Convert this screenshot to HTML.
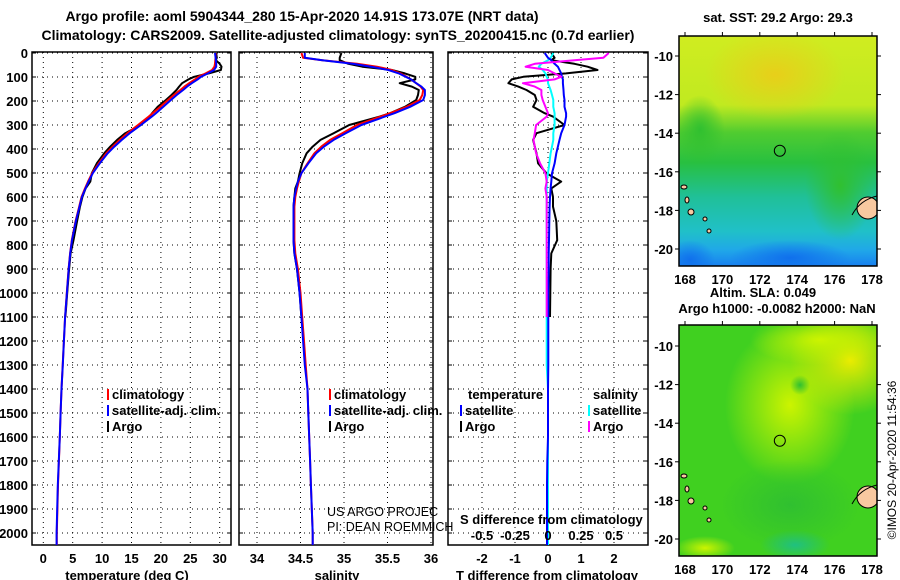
<!DOCTYPE html>
<html><head><meta charset="utf-8">
<style>
html,body{margin:0;padding:0;background:#fff;}
svg{display:block;font-family:"Liberation Sans",Arial,sans-serif;}
</style></head>
<body>
<svg id="chart" width="900" height="580" viewBox="0 0 900 580" xmlns="http://www.w3.org/2000/svg">
<defs>
<clipPath id="c1"><rect x="32" y="52" width="199" height="493"/></clipPath>
<clipPath id="c2"><rect x="239" y="52" width="194" height="493"/></clipPath>
<clipPath id="c3"><rect x="448" y="52" width="200" height="493"/></clipPath>
<linearGradient id="sstV" x1="0" y1="0" x2="0" y2="1">
<stop offset="0" stop-color="#d0ec20"/><stop offset="0.3" stop-color="#c0ea20"/>
<stop offset="0.42" stop-color="#50cc30"/><stop offset="0.55" stop-color="#28c040"/>
<stop offset="0.7" stop-color="#20c098"/><stop offset="0.85" stop-color="#20c0c8"/>
<stop offset="0.93" stop-color="#20a8e8"/><stop offset="1" stop-color="#1880f0"/></linearGradient>
<radialGradient id="orange" cx="0.5" cy="0.5" r="0.5"><stop offset="0" stop-color="#f0c818"/><stop offset="1" stop-color="#f0c818" stop-opacity="0"/></radialGradient>
<radialGradient id="blueBlob" cx="0.5" cy="0.5" r="0.5"><stop offset="0" stop-color="#1070ec"/><stop offset="1" stop-color="#1070ec" stop-opacity="0"/></radialGradient>
<radialGradient id="greenBlob" cx="0.5" cy="0.5" r="0.5"><stop offset="0" stop-color="#30c030"/><stop offset="1" stop-color="#30c030" stop-opacity="0"/></radialGradient>
<radialGradient id="yelBlob" cx="0.5" cy="0.5" r="0.5"><stop offset="0" stop-color="#ccf400"/><stop offset="1" stop-color="#ccf400" stop-opacity="0"/></radialGradient>
<radialGradient id="yel2" cx="0.5" cy="0.5" r="0.5"><stop offset="0" stop-color="#ecec00"/><stop offset="1" stop-color="#ecec00" stop-opacity="0"/></radialGradient>
<radialGradient id="tealBlob" cx="0.5" cy="0.5" r="0.5"><stop offset="0" stop-color="#20c080"/><stop offset="1" stop-color="#20c080" stop-opacity="0"/></radialGradient>
<clipPath id="m1"><rect x="679" y="36" width="198" height="230"/></clipPath>
<clipPath id="m2"><rect x="679" y="325" width="198" height="231"/></clipPath>
</defs>
<g id="root"></g>
</svg>
<script>
// ---- data ----
const depths = [0,20,30,45,57,71,85,99,110,126,140,154,175,196,224,251,265,300,334,362,390,418,460,501,536,564,600,640,700,780,835,900,1000,1100,1200,1300,1400,1500,1600,1700,1800,1900,2000,2050];
const tempClim = [29.3,29.3,29.25,29.2,29.1,28.7,27.6,26.4,25.8,24.8,24.0,23.3,22.2,21.2,19.9,18.6,17.9,16.1,14.3,13.0,11.8,10.7,9.4,8.3,7.6,7.1,6.5,6.1,5.5,4.85,4.55,4.3,4.0,3.7,3.5,3.3,3.1,2.95,2.8,2.65,2.5,2.4,2.3,2.3];
const tempSatDiff = [-0.1,0,0.1,0.2,0.3,0.35,0.4,0.42,0.45,0.45,0.46,0.47,0.48,0.5,0.5,0.55,0.55,0.5,0.4,0.35,0.3,0.25,0.2,0.12,0.1,0.08,0.06,0.05,0.04,0.03,0.02,0.02,0.01,0.01,0.01,0.01,0,0,0,-0.02,-0.03,-0.03,-0.03,-0.03];
const tempArgoDiff = [0.1,0.2,0.1,0.8,1.2,1.5,0.55,-0.75,-1.1,-1.2,-0.9,-0.65,-0.4,-0.35,-0.45,-0.1,0.15,0.5,-0.35,-0.45,-0.4,-0.35,-0.3,-0.05,0.4,0.1,0.15,0.15,0.25,0.28,0.1,0.08,0.07,0.06,null,null,null,null,null,null,null,null,null,null];
const salClim = [34.51,34.53,34.75,35.15,35.38,35.55,35.65,35.72,35.77,35.83,35.88,35.91,35.9,35.87,35.72,35.53,35.42,35.15,34.98,34.84,34.74,34.66,34.58,34.51,34.48,34.46,34.44,34.43,34.43,34.43,34.44,34.47,34.5,34.52,34.54,34.56,34.58,34.59,34.6,34.61,34.62,34.63,34.64,34.64];
const salSatDiff = [0.04,0.02,0,-0.05,-0.07,-0.04,-0.02,-0.01,0,0,0.01,0.02,0.03,0.04,0.04,0.05,0.05,0.05,0.04,0.04,0.03,0.02,0.01,0,-0.01,-0.01,-0.01,-0.01,-0.01,-0.01,-0.01,-0.01,-0.01,-0.01,-0.01,-0.01,0,0,0,0,0,0,0,0];
const salArgoDiff = [0.46,0.42,0.2,-0.1,-0.17,0.0,0.05,0.1,0.05,-0.19,-0.1,-0.05,-0.05,-0.04,-0.02,0.0,-0.01,-0.09,-0.1,-0.11,-0.1,-0.09,-0.06,-0.02,-0.01,-0.02,-0.01,-0.01,-0.01,-0.01,-0.01,-0.01,-0.01,-0.01,null,null,null,null,null,null,null,null,null,null];
const depthTicks = [0,100,200,300,400,500,600,700,800,900,1000,1100,1200,1300,1400,1500,1600,1700,1800,1900,2000];
const tempTicks = [0,5,10,15,20,25,30];
const salTicks = [34,34.5,35,35.5,36];
const tdTicks = [-2,-1,0,1,2];
const sdTicks = [-0.5,-0.25,0,0.25,0.5];
const latTicks = [-10,-12,-14,-16,-18,-20];
const lonTicks = [168,170,172,174,176,178];
const argoLon = 173.07, argoLat = -14.91;

// ---- scales ----
const yD = d => 53 + d * 0.24;
const xT = t => 43.3 + t * 5.88;
const xS = s => 257 + (s - 34) * 87;
const xTD = v => 548 + v * 33;
const xSD = v => 548 + v * 132;
const mx = lon => 685 + (lon - 168) * 18.7;
const my1 = lat => 56 + (-10 - lat) * 19.3;
const my2 = lat => 346 + (-10 - lat) * 19.3;

const NS = 'http://www.w3.org/2000/svg';
const root = document.getElementById('root');
function mk(tag, attrs, parent) {
  const e = document.createElementNS(NS, tag);
  for (const k in attrs) e.setAttribute(k, attrs[k]);
  (parent || root).appendChild(e);
  return e;
}
function txt(s, x, y, size, anchor, bold, parent) {
  const t = mk('text', {x: x, y: y, 'font-size': size, 'text-anchor': anchor || 'start', 'font-weight': bold ? 'bold' : 'normal', fill: '#000'}, parent);
  t.textContent = s;
  return t;
}
function pathFrom(vals, xf) {
  let d = '', pen = false;
  for (let i = 0; i < depths.length; i++) {
    const v = vals[i];
    if (v === null || v === undefined) { pen = false; continue; }
    d += (pen ? 'L' : 'M') + xf(v).toFixed(1) + ',' + yD(depths[i]).toFixed(1);
    pen = true;
  }
  return d;
}
const sum = (a, b) => a.map((v, i) => (v === null || b[i] === null) ? null : +(v + b[i]).toFixed(3));
const tempSat = sum(tempClim, tempSatDiff), tempArgo = sum(tempClim, tempArgoDiff);
const salSat = sum(salClim, salSatDiff), salArgo = sum(salClim, salArgoDiff);

// ---- titles ----
let el;
el = txt('Argo profile: aoml 5904344_280 15-Apr-2020 14.91S 173.07E (NRT data)', 302, 21, 14, 'middle', true);


el = txt('Climatology: CARS2009. Satellite-adjusted climatology: synTS_20200415.nc (0.7d earlier)', 338, 40, 14, 'middle', true);



// ---- panels ----
const panels = [
  {name: 'temperature', x0: 32, x1: 231, clip: 'c1', xticks: tempTicks, xf: xT, title: 'temperature (deg C)', tx: 127},
  {name: 'salinity', x0: 239, x1: 433, clip: 'c2', xticks: salTicks, xf: xS, title: 'salinity', tx: 337},
  {name: 'difference', x0: 448, x1: 648, clip: 'c3', xticks: tdTicks, xf: xTD, title: 'T difference from climatology', tx: 547}
];
panels.forEach(p => {
  const g = mk('g', {});
  
  
  depthTicks.forEach(d => {
    const l = mk('line', {x1: p.x0, x2: p.x1, y1: yD(d), y2: yD(d), stroke: '#000', 'stroke-width': 1, 'stroke-dasharray': '1,4'}, g);
    
    
    const t1 = mk('line', {x1: p.x0, x2: p.x0 + 4, y1: yD(d), y2: yD(d), stroke: '#000'}, g);
    
    
    const t2 = mk('line', {x1: p.x1 - 4, x2: p.x1, y1: yD(d), y2: yD(d), stroke: '#000'}, g);
    
    
  });
  p.xticks.forEach(v => {
    const l = mk('line', {x1: p.xf(v), x2: p.xf(v), y1: 52, y2: 545, stroke: '#000', 'stroke-width': 1, 'stroke-dasharray': '1,4'}, g);
    
    
    const lab = txt(String(v), p.xf(v), 563, 13, 'middle', true, g);
    
    
  });
  const fr = mk('rect', {x: p.x0, y: 52, width: p.x1 - p.x0, height: 493, fill: 'none', stroke: '#000', 'stroke-width': 1.5}, g);
  
  
  const at = txt(p.title, p.tx, 580, 13, 'middle', true, g);
  
  
});
depthTicks.forEach(d => {
  const t = txt(String(d), 28, yD(d) + 5, 13, 'end', true);
  
  
});

// ---- series ----
function series(vals, xf, color, clip, name, w) {
  const p = mk('path', {d: pathFrom(vals, xf), fill: 'none', stroke: color, 'stroke-width': w || 2, 'clip-path': 'url(#' + clip + ')', 'stroke-linejoin': 'round'});
  
  
}
series(tempArgo, xT, '#000', 'c1', 'temperature-argo-line');
series(tempClim, xT, '#ff0000', 'c1', 'temperature-climatology-line');
series(tempSat, xT, '#0000ff', 'c1', 'temperature-satellite-line');
series(salArgo, xS, '#000', 'c2', 'salinity-argo-line');
series(salClim, xS, '#ff0000', 'c2', 'salinity-climatology-line');
series(salSat, xS, '#0000ff', 'c2', 'salinity-satellite-line');
series(tempArgoDiff, xTD, '#000', 'c3', 'temp-diff-argo-line');
series(salSatDiff, xSD, '#00ffff', 'c3', 'sal-diff-satellite-line');
series(tempSatDiff, xTD, '#0000ff', 'c3', 'temp-diff-satellite-line');
series(salArgoDiff, xSD, '#ff00ff', 'c3', 'sal-diff-argo-line');

el = txt('S difference from climatology', 460, 524, 13, 'start', true);


sdTicks.forEach(v => {
  const t = txt(String(v), xSD(v), 540, 13, 'middle', true);
  
  
});

// ---- legends ----
function legend(x, y, color, label, name) {
  const m = mk('rect', {x: x, y: y - 10, width: 2, height: 11, fill: color});
  
  
  const t = txt(label, x + 5, y, 13, 'start', true);
  
  
}
legend(107, 399, '#ff0000', 'climatology', 'legend-climatology');
legend(107, 415, '#0000ff', 'satellite-adj. clim.', 'legend-satellite');
legend(107, 431, '#000', 'Argo', 'legend-argo');
legend(329, 399, '#ff0000', 'climatology', 'legend2-climatology');
legend(329, 415, '#0000ff', 'satellite-adj. clim.', 'legend2-satellite');
legend(329, 431, '#000', 'Argo', 'legend2-argo');
el = txt('temperature', 468, 399, 13, 'start', true);


el = txt('salinity', 593, 399, 13, 'start', true);


legend(460, 415, '#0000ff', 'satellite', 'legend3-t-satellite');
legend(460, 431, '#000', 'Argo', 'legend3-t-argo');
legend(588, 415, '#00ffff', 'satellite', 'legend3-s-satellite');
legend(588, 431, '#ff00ff', 'Argo', 'legend3-s-argo');
el = txt('US ARGO PROJEC', 327, 516, 12.5, 'start', false);


el = txt('PI: DEAN ROEMMICH', 327, 531, 12.5, 'start', false);



// ---- maps ----
function island(g, cx, cy, rx, ry) {
  const e = mk('ellipse', {cx: cx, cy: cy, rx: rx, ry: ry, fill: '#f8c8a0', stroke: '#000', 'stroke-width': 1}, g);
  
  
}
function mapGroup(name) {
  const g = mk('g', {});
  
  
  return g;
}
// map 1 (SST)
const g1 = mapGroup('sst-map');
const m1 = mk('g', {'clip-path': 'url(#m1)'}, g1);
mk('rect', {x: 679, y: 36, width: 198, height: 230, fill: 'url(#sstV)'}, m1);
mk('ellipse', {cx: 775, cy: 75, rx: 70, ry: 45, fill: 'url(#orange)', opacity: 0.8}, m1);
mk('ellipse', {cx: 840, cy: 185, rx: 35, ry: 55, fill: 'url(#greenBlob)'}, m1);
mk('ellipse', {cx: 700, cy: 130, rx: 25, ry: 35, fill: 'url(#greenBlob)'}, m1);
mk('ellipse', {cx: 790, cy: 258, rx: 60, ry: 18, fill: 'url(#blueBlob)'}, m1);
mk('ellipse', {cx: 690, cy: 260, rx: 25, ry: 20, fill: 'url(#blueBlob)'}, m1);
island(m1, 684, 187, 3, 2); island(m1, 687, 200, 2, 3); island(m1, 691, 212, 3, 3);
island(m1, 705, 219, 2, 2); island(m1, 868, 208, 11, 11); island(m1, 709, 231, 2, 2);
mk('path', {d: 'M877,196 Q860,200 852,215', fill: 'none', stroke: '#000', 'stroke-width': 1}, m1);
// map 2 (altimetry)
const g2 = mapGroup('sla-map');
const m2 = mk('g', {'clip-path': 'url(#m2)'}, g2);
mk('rect', {x: 679, y: 325, width: 198, height: 231, fill: '#40d020'}, m2);
mk('ellipse', {cx: 790, cy: 405, rx: 65, ry: 80, fill: 'url(#yelBlob)'}, m2);
mk('ellipse', {cx: 850, cy: 360, rx: 60, ry: 55, fill: 'url(#yel2)'}, m2);
mk('ellipse', {cx: 820, cy: 340, rx: 70, ry: 25, fill: 'url(#yelBlob)'}, m2);
mk('ellipse', {cx: 800, cy: 385, rx: 10, ry: 10, fill: 'url(#greenBlob)'}, m2);
mk('ellipse', {cx: 790, cy: 505, rx: 70, ry: 45, fill: 'url(#greenBlob)'}, m2);
mk('ellipse', {cx: 795, cy: 545, rx: 35, ry: 15, fill: 'url(#tealBlob)'}, m2);
mk('ellipse', {cx: 705, cy: 548, rx: 30, ry: 12, fill: 'url(#yelBlob)'}, m2);
island(m2, 684, 476, 3, 2); island(m2, 687, 489, 2, 3); island(m2, 691, 501, 3, 3);
island(m2, 705, 508, 2, 2); island(m2, 868, 497, 11, 11); island(m2, 709, 520, 2, 2);
mk('path', {d: 'M877,485 Q860,489 852,504', fill: 'none', stroke: '#000', 'stroke-width': 1}, m2);

[[g1, my1, 36, 266, 284], [g2, my2, 325, 556, 574]].forEach(([g, myf, top, bot, ly]) => {
  const fr = mk('rect', {x: 679, y: top, width: 198, height: bot - top, fill: 'none', stroke: '#000', 'stroke-width': 1.5}, g);
  
  
  latTicks.forEach(v => {
    const tk = mk('line', {x1: 675, x2: 679, y1: myf(v), y2: myf(v), stroke: '#000'}, g);
    
    
    const tk2 = mk('line', {x1: 877, x2: 881, y1: myf(v), y2: myf(v), stroke: '#000'}, g);
    
    
    const t = txt(String(v), 673, myf(v) + 5, 13, 'end', true, g);
    
    
  });
  lonTicks.forEach(v => {
    const tk = mk('line', {x1: mx(v), x2: mx(v), y1: top - 4, y2: top, stroke: '#000'}, g);
    
    
    const t = txt(String(v), mx(v), ly, 13, 'middle', true, g);
    
    
  });
  const c = mk('circle', {cx: mx(argoLon), cy: myf(argoLat), r: 5.5, fill: 'none', stroke: '#000', 'stroke-width': 1}, g);
  
  
});
el = txt('sat. SST: 29.2 Argo: 29.3', 778, 22, 13, 'middle', true);


el = txt('Altim. SLA: 0.049', 763, 297, 13, 'middle', true);


el = txt('Argo h1000: -0.0082 h2000: NaN', 777, 313, 13, 'middle', true);


el = txt('©IMOS 20-Apr-2020 11:54:36', 0, 0, 12, 'middle', false);
el.setAttribute('transform', 'translate(896,460) rotate(-90)');


</script>
</body></html>
